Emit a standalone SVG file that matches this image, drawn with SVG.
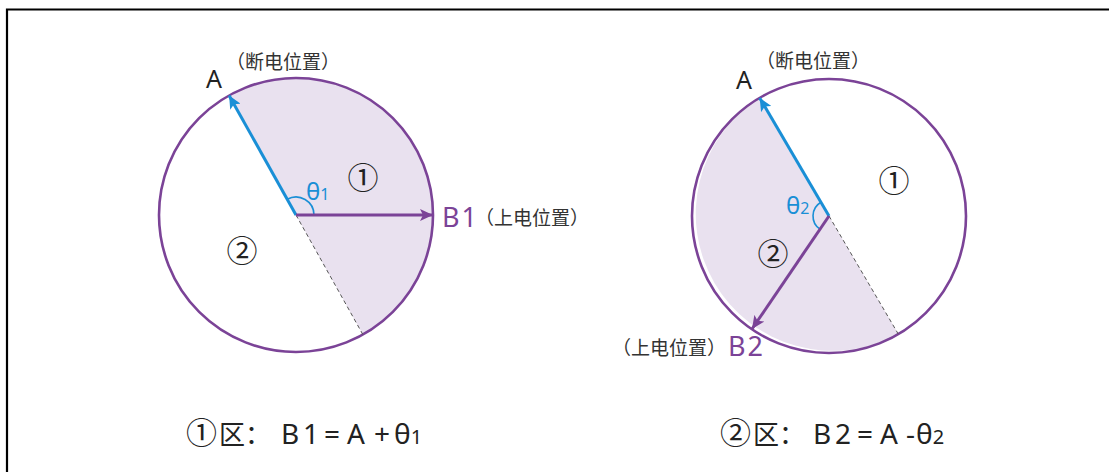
<svg xmlns="http://www.w3.org/2000/svg" width="1109" height="472" viewBox="0 0 1109 472">
<style>
.ring{fill:none;stroke:#7b4397;stroke-width:2.6}
.shade{fill:#e9e1ef;stroke:none}
.dash{stroke:#555;stroke-width:1;stroke-dasharray:4 3;fill:none}
.blue{stroke:#1a8fd6;stroke-width:3;fill:none}
.purp{stroke:#7b4397;stroke-width:3;fill:none}
.arc{stroke:#1a8fd6;stroke-width:1.6;fill:none}
.t{font-family:"Noto Sans","Noto Sans CJK SC",sans-serif;fill:#222}
.lab{font-size:19px;fill:#333}
.big{font-size:25px}
.num{font-size:31px;text-anchor:middle}
.theta{font-size:24px;fill:#1a8fd6}
.bp{font-size:27px;fill:#7b4397}
.f{font-size:28px}
</style>
<defs>
<marker id="ab" markerUnits="userSpaceOnUse" markerWidth="14" markerHeight="12" refX="13" refY="6" orient="auto"><path d="M0,0 L13,6 L0,12 L3,6 Z" fill="#1a8fd6"/></marker>
<marker id="ap" markerUnits="userSpaceOnUse" markerWidth="14" markerHeight="12" refX="13" refY="6" orient="auto"><path d="M0,0 L13,6 L0,12 L3,6 Z" fill="#7b4397"/></marker>
</defs>
<rect x="0" y="0" width="1109" height="472" fill="#fff"/>
<path d="M7,472 V9.5 H1109" fill="none" stroke="#000" stroke-width="2.2"/>

<g id="left-circle">
<path class="shade" d="M296,215 L229.1,95.4 A137,137 0 0 1 362.9,334.6 Z"/>
<circle class="ring" cx="296" cy="215" r="137"/>
<line class="dash" x1="296" y1="215" x2="362.9" y2="334.6"/>
<path class="arc" d="M314,215 A18,18 0 0 0 287.2,199.3"/>
<text class="t num" x="363" y="189">①</text>
<text class="t num" x="242" y="262">②</text>
<text class="t big" x="206" y="88">A</text>
<text class="t lab" x="226" y="69">（断电位置）</text>
<text class="t theta" x="306" y="200">θ<tspan font-size="16">1</tspan></text>
<text class="t bp" x="442" y="227">B<tspan dx="2">1</tspan></text>
<text class="t lab" x="475" y="225">（上电位置）</text>
</g>

<g id="right-circle">
<path class="shade" d="M829,216 L759.7,97.9 A137,137 0 0 0 898.3,334.1 Z"/>
<circle class="ring" cx="829" cy="216" r="137"/>
<line class="dash" x1="829" y1="216" x2="898.3" y2="334.1"/>
<path class="arc" d="M820.9,202.2 A16,16 0 0 0 820,229.2"/>
<text class="t num" x="894" y="192">①</text>
<text class="t num" x="773" y="265">②</text>
<text class="t big" x="736" y="89">A</text>
<text class="t lab" x="756" y="68">（断电位置）</text>
<text class="t theta" x="786" y="214">θ<tspan font-size="16">2</tspan></text>
<text class="t lab" x="612" y="355">（上电位置）</text>
<text class="t bp" x="728" y="356">B<tspan dx="2">2</tspan></text>
</g>

<g id="connectors">
<line class="blue" x1="296" y1="215" x2="229.1" y2="95.4" marker-end="url(#ab)"/>
<line class="purp" x1="296" y1="215" x2="433" y2="215" marker-end="url(#ap)"/>
<line class="blue" x1="829" y1="216" x2="759.7" y2="97.9" marker-end="url(#ab)"/>
<line class="purp" x1="829" y1="216" x2="752" y2="329" marker-end="url(#ap)"/>
</g>

<g id="formula-1">
<text class="t f" y="444"><tspan x="186" font-size="31">①</tspan><tspan x="219" font-size="26">区：</tspan><tspan x="281">B</tspan><tspan x="303">1</tspan><tspan x="324">=</tspan><tspan x="347">A</tspan><tspan x="374">+</tspan><tspan x="394">θ</tspan><tspan font-size="20">1</tspan></text>
</g>
<g id="formula-2">
<text class="t f" y="444"><tspan x="720" font-size="31">②</tspan><tspan x="753" font-size="26">区：</tspan><tspan x="813">B</tspan><tspan x="835">2</tspan><tspan x="857">=</tspan><tspan x="880">A</tspan><tspan x="906">-</tspan><tspan x="916">θ</tspan><tspan font-size="20">2</tspan></text>
</g>
</svg>
